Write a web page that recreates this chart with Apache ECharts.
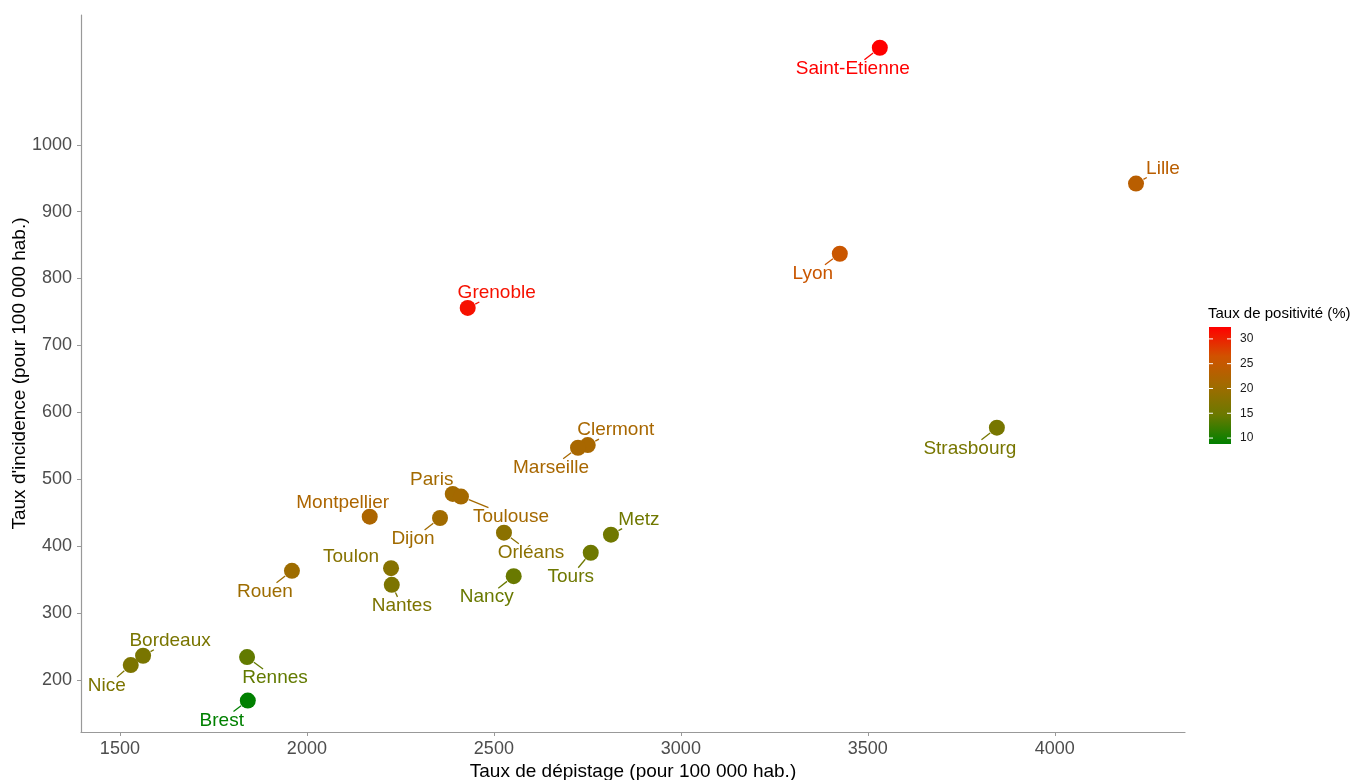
<!DOCTYPE html>
<html>
<head>
<meta charset="utf-8">
<script src="https://cdn.jsdelivr.net/npm/echarts@6/dist/echarts.min.js"></script>
<style>
html,body{margin:0;padding:0;background:#fff;}
#chart{width:1364px;height:780px;}
</style>
</head>
<body>
<div id="chart"></div>
<script>
// ---- data ----
const cities = ['Saint-Etienne','Lille','Lyon','Grenoble','Strasbourg','Clermont','Marseille','Paris','Toulouse','Montpellier','Dijon','Orléans','Metz','Tours','Toulon','Nantes','Nancy','Rouen','Bordeaux','Nice','Rennes','Brest'];
const depistage = [3532,4217,3425,2430,3845,2751,2725,2390,2412,2168,2356,2527,2813,2759,2225,2227,2553,1960,1562,1529,1840,1842];
const incidence = [1145,942,837,756,577,551,547,478,474,444,442,420,417,390,367,342,355,363,236,222,234,169];
const positivite = [32.4,23.6,25.5,31.2,16.0,21.5,21.5,20.8,21.0,22.0,20.6,18.2,15.2,15.0,17.6,16.6,14.6,20.2,16.2,16.6,14.2,8.8];
const xTicks = [1500,2000,2500,3000,3500,4000];
const yTicks = [200,300,400,500,600,700,800,900,1000];
const legendTicks = [10,15,20,25,30];

// ---- style / layout ----
const gradStops = ['#008000','#6B7900','#A16B00','#D15200','#FF0000'];
const colMin = Math.min(...positivite), colMax = Math.max(...positivite);
function colorOf(v){ return echarts.color.lerp((v-colMin)/(colMax-colMin), gradStops); }
const labelOffsets = {
  'Saint-Etienne':[-27,21],'Lille':[27,-15],'Lyon':[-27,20],'Grenoble':[29,-15],
  'Strasbourg':[-27,21],'Clermont':[28,-15],'Marseille':[-27,20],'Paris':[-21,-14],
  'Toulouse':[50,20],'Montpellier':[-27,-14],'Dijon':[-27,21],'Orléans':[27,20],
  'Metz':[28,-15],'Tours':[-20,24],'Toulon':[-40,-11],'Nantes':[10,21],
  'Nancy':[-27,21],'Rouen':[-27,21],'Bordeaux':[27,-15],'Nice':[-24,21],
  'Rennes':[28,21],'Brest':[-26,20]
};
const FONT = '"Liberation Sans", Arial, sans-serif';
const LABEL_SIZE = 19, POINT_SIZE = 16;

const measureCtx = document.createElement('canvas').getContext('2d');
measureCtx.font = LABEL_SIZE + 'px ' + FONT;
function textHalfWidth(t){ return measureCtx.measureText(t).width / 2; }

const points = cities.map((c,i)=>{
  const col = colorOf(positivite[i]);
  return {
    name: c,
    value: [depistage[i], incidence[i], positivite[i]],
    itemStyle: {color: col, opacity: 1},
    label: {color: col, opacity: 1}
  };
});

// leader segments (ggrepel-like): from point edge toward label centre, stopping at label box
function renderSegment(params, api){
  const i = params.dataIndex;
  const p = api.coord([api.value(0), api.value(1)]);
  const o = labelOffsets[cities[i]];
  const L = Math.hypot(o[0], o[1]);
  const hw = textHalfWidth(cities[i]) + 2, hh = 9;
  const t = Math.min(o[0] ? hw/Math.abs(o[0]) : Infinity, o[1] ? hh/Math.abs(o[1]) : Infinity);
  if (t >= 1) return null;
  const r = POINT_SIZE/2 + 0.5;
  const endDist = L*(1-t);
  if (endDist - r < 3) return null;
  const ux = o[0]/L, uy = o[1]/L;
  return {
    type:'line',
    shape:{x1:p[0]+ux*r, y1:p[1]+uy*r, x2:p[0]+ux*endDist, y2:p[1]+uy*endDist},
    style:{stroke: colorOf(positivite[i]), lineWidth:1.3}
  };
}

// legend (colour bar guide)
const barTop = 327, barH = 117, barX = 1209, barW = 22;
function legY(v){ return barTop + barH - (v-colMin)/(colMax-colMin)*barH; }
const legendGraphics = [
  {type:'text', left:1208, top:306, style:{text:'Taux de positivité (%)', font:'15px '+FONT, fill:'#000'}},
  {type:'rect', shape:{x:barX, y:barTop, width:barW, height:barH},
   style:{fill:{type:'linear', x:0, y:1, x2:0, y2:0, colorStops: gradStops.map((c,k)=>({offset:k/(gradStops.length-1), color:c}))}}}
];
legendTicks.forEach(v=>{
  const y = legY(v);
  legendGraphics.push({type:'line', shape:{x1:barX, y1:y, x2:barX+4, y2:y}, style:{stroke:'#fff', lineWidth:1}});
  legendGraphics.push({type:'line', shape:{x1:barX+barW-4, y1:y, x2:barX+barW, y2:y}, style:{stroke:'#fff', lineWidth:1}});
  legendGraphics.push({type:'text', x:1240, y:y, style:{text:String(v), font:'12px '+FONT, fill:'#1a1a1a', verticalAlign:'middle'}});
});

const chart = echarts.init(document.getElementById('chart'), null, {renderer:'canvas'});
chart.setOption({
  backgroundColor:'#fff',
  animation:false,
  textStyle:{fontFamily:FONT},
  grid:{left:81, right:179, top:15, bottom:48, containLabel:false, outerBoundsMode:'none'},
  xAxis:{
    type:'value', min:1396, max:4348,
    name:'Taux de dépistage (pour 100 000 hab.)', nameLocation:'middle', nameGap:30, nameMoveOverlap:false,
    nameTextStyle:{fontSize:19, color:'#000', fontFamily:FONT},
    axisLine:{show:true, onZero:false, lineStyle:{color:'#999', width:1.2}},
    axisTick:{show:true, length:4, customValues:xTicks, lineStyle:{color:'#999'}},
    axisLabel:{customValues:xTicks, formatter:v=>String(v), fontSize:18, color:'#4d4d4d', margin:8, fontFamily:FONT},
    splitLine:{show:false}
  },
  yAxis:{
    type:'value', min:122, max:1194,
    name:"Taux d'incidence (pour 100 000 hab.)", nameLocation:'middle', nameGap:52, nameMoveOverlap:false,
    nameTextStyle:{fontSize:19, color:'#000', fontFamily:FONT},
    axisLine:{show:true, onZero:false, lineStyle:{color:'#999', width:1.2}},
    axisTick:{show:true, length:4, customValues:yTicks, lineStyle:{color:'#999'}},
    axisLabel:{customValues:yTicks, formatter:v=>String(v), fontSize:18, color:'#4d4d4d', margin:9, fontFamily:FONT},
    splitLine:{show:false}
  },
  graphic: legendGraphics,
  series:[{
    type:'custom',
    coordinateSystem:'cartesian2d',
    data: cities.map((c,i)=>[depistage[i], incidence[i]]),
    renderItem: renderSegment,
    silent:true, z:1
  },{
    type:'scatter',
    symbolSize:POINT_SIZE,
    data: points,
    z:2,
    itemStyle:{opacity:1},
    label:{show:true, position:'inside', formatter:p=>p.name, fontSize:LABEL_SIZE, fontFamily:FONT, align:'center', verticalAlign:'middle'},
    labelLayout: function(params){
      const o = labelOffsets[cities[params.dataIndex]];
      return {dx:o[0], dy:o[1]};
    },
    emphasis:{disabled:true}
  }]
});
</script>
</body>
</html>
